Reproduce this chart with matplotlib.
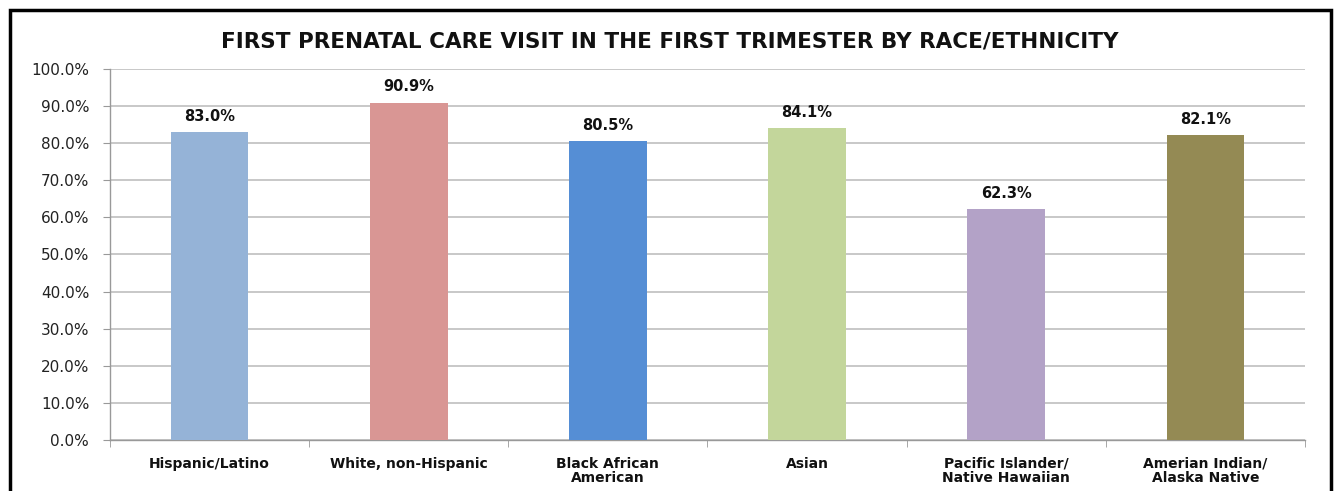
import matplotlib.pyplot as plt
import matplotlib.patches as patches
from matplotlib.ticker import FixedLocator

categories = ['Hispanic/Latino', 'White, non-Hispanic', 'Black African\nAmerican',
              'Asian', 'Pacific Islander/\nNative Hawaiian', 'Amerian Indian/\nAlaska Native']
values = [83.0, 90.9, 80.5, 84.1, 62.3, 82.1]
colors = ['#95B3D7', '#D99694', '#558ED5', '#C3D69B', '#B3A2C7', '#948A54']
yticks = [0, 10, 20, 30, 40, 50, 60, 70, 80, 90, 100]

plt.rcParams['font.family'] = ['DejaVu Sans']

fig = plt.figure(figsize=(13.37, 4.91), dpi=100)
ax = fig.add_axes([0.0823, 0.1039, 0.976 - 0.0823, 0.8595 - 0.1039])

x = list(range(len(categories)))
ax.bar(x, values, width=0.39, color=colors, zorder=3)

for xi, v in zip(x, values):
    ax.annotate('%.1f%%' % v, (xi, v), xytext=(0, 6), textcoords='offset points',
                ha='center', va='bottom', fontsize=10.5, fontweight='bold', color='#111111')

ax.set_xlim(-0.5, len(categories) - 0.5)
ax.set_ylim(0, 100)
ax.set_yticks(yticks)
ax.set_yticklabels(['%.1f%%' % t for t in yticks], fontsize=11, color='#222222')
ax.yaxis.grid(True, color='#BFBFBF', linewidth=1.2, zorder=0)
ax.tick_params(axis='y', length=5, color='#999999', pad=10)

# category names centred under the bars, tick marks on the boundaries
ax.set_xticks(x)
ax.set_xticklabels(categories, fontsize=10, fontweight='bold', color='#111111', linespacing=1.0)
ax.tick_params(axis='x', which='major', length=0, pad=12)
ax.xaxis.set_minor_locator(FixedLocator([i - 0.5 for i in range(len(categories) + 1)]))
ax.tick_params(axis='x', which='minor', length=5, color='#999999')

for side in ['top', 'right']:
    ax.spines[side].set_visible(False)
for side in ['left', 'bottom']:
    ax.spines[side].set_color('#999999')
    ax.spines[side].set_linewidth(1.0)

fig.text(0.501, 0.915, 'FIRST PRENATAL CARE VISIT IN THE FIRST TRIMESTER BY RACE/ETHNICITY',
         ha='center', va='center', fontsize=15.5, fontweight='bold', color='#111111')

# frame round the chart
frame = patches.Rectangle((0.0075, -0.05), 0.9955 - 0.0075, 0.9796 + 0.05,
                          transform=fig.transFigure, fill=False, edgecolor='black',
                          linewidth=2.5, clip_on=False)
fig.patches.append(frame)

fig.savefig('out.png', dpi=100)
